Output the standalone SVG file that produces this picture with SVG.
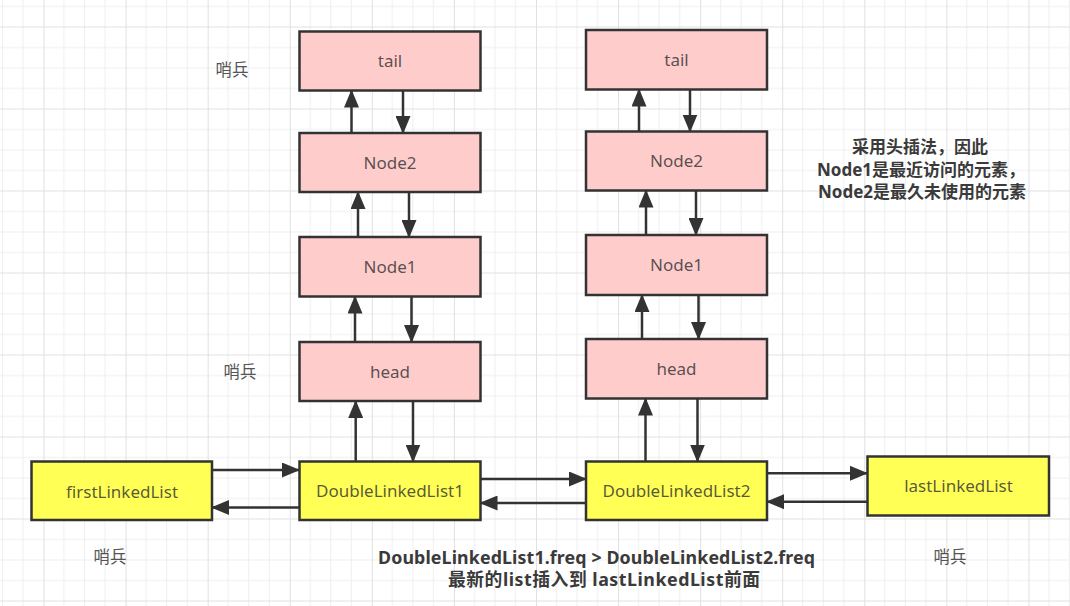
<svg xmlns="http://www.w3.org/2000/svg" width="1070" height="606" viewBox="0 0 1070 606">
  <defs>
    <pattern id="grid" patternUnits="userSpaceOnUse" x="43.5" y="26.5" width="82.08" height="82">
      <path d="M20.52 0V82M41.04 0V82M61.56 0V82M0 21H82.08M0 41.5H82.08M0 62H82.08" stroke="#eeeeee" stroke-width="1" fill="none"/>
      <path d="M0.5 0V82M0 0.5H82.08" stroke="#e0e0e0" stroke-width="1" fill="none"/>
    </pattern>
    <marker id="arrow" markerUnits="userSpaceOnUse" viewBox="0 0 18 15" refX="17" refY="7.5" markerWidth="18" markerHeight="15" orient="auto">
      <path d="M0 0L18 7.5L0 15z" fill="#333333"/>
    </marker>
  </defs>
  <style>
    .pink { fill: #ffcccc; stroke: #333333; stroke-width: 2.5; }
    .yellow { fill: #ffff55; stroke: #333333; stroke-width: 2.5; }
    .lbl { font-family: "Noto Sans", "Liberation Sans", sans-serif; font-size: 17px; fill: #333333; fill-opacity: 0.82; text-anchor: middle; }
    .note { font-family: "Noto Sans", "Noto Sans CJK SC", sans-serif; font-size: 16.5px; fill: #555555; text-anchor: middle; }
    .bold { font-family: "Noto Sans", "Noto Sans CJK SC", sans-serif; font-size: 17px; font-weight: bold; fill: #3a3a3a; text-anchor: middle; }
    .big { font-size: 17.8px; }
    .conn { stroke: #333333; stroke-width: 2.5; fill: none; marker-end: url(#arrow); }
  </style>
  <rect x="0" y="0" width="1070" height="606" fill="#ffffff"/>
  <rect x="0" y="0" width="1070" height="606" fill="url(#grid)"/>

  <g id="connectors">
    <path class="conn" d="M351.5 133V90.5"/>
    <path class="conn" d="M403 90.5V133"/>
    <path class="conn" d="M358 237V192"/>
    <path class="conn" d="M409 192V237"/>
    <path class="conn" d="M355 342V296.5"/>
    <path class="conn" d="M411.5 296.5V342"/>
    <path class="conn" d="M355.7 461.5V401"/>
    <path class="conn" d="M413 401V461.5"/>

    <path class="conn" d="M639 131.5V89.5"/>
    <path class="conn" d="M690 89.5V131.5"/>
    <path class="conn" d="M646 235V190.5"/>
    <path class="conn" d="M696 190.5V235"/>
    <path class="conn" d="M642 339V295"/>
    <path class="conn" d="M698.5 295V339"/>
    <path class="conn" d="M645.5 461.5V398.5"/>
    <path class="conn" d="M697.5 398.5V461.5"/>

    <path class="conn" d="M212 470H299"/>
    <path class="conn" d="M299 507.5H212"/>
    <path class="conn" d="M480.5 479H586"/>
    <path class="conn" d="M586 503H480.5"/>
    <path class="conn" d="M767 473.3H867"/>
    <path class="conn" d="M867.5 501.7H767"/>
  </g>

  <g id="left-tail"><rect class="pink" x="299.5" y="31.5" width="181" height="59"/><text class="lbl" x="390" y="67">tail</text></g>
  <g id="left-node2"><rect class="pink" x="299.5" y="133" width="181" height="59"/><text class="lbl" x="390" y="168.5">Node2</text></g>
  <g id="left-node1"><rect class="pink" x="299.5" y="237" width="181" height="59.5"/><text class="lbl" x="390" y="272.5">Node1</text></g>
  <g id="left-head"><rect class="pink" x="299.5" y="342" width="181" height="59"/><text class="lbl" x="390" y="377.5">head</text></g>
  <g id="double-linked-list-1"><rect class="yellow" x="299.5" y="461.5" width="181" height="58.5"/><text class="lbl" x="390" y="497">DoubleLinkedList1</text></g>

  <g id="right-tail"><rect class="pink" x="586" y="30" width="181" height="59.5"/><text class="lbl" x="676.5" y="66">tail</text></g>
  <g id="right-node2"><rect class="pink" x="586" y="131.5" width="181" height="59"/><text class="lbl" x="676.5" y="167">Node2</text></g>
  <g id="right-node1"><rect class="pink" x="586" y="235" width="181" height="60"/><text class="lbl" x="676.5" y="271">Node1</text></g>
  <g id="right-head"><rect class="pink" x="586" y="339" width="181" height="59.5"/><text class="lbl" x="676.5" y="375">head</text></g>
  <g id="double-linked-list-2"><rect class="yellow" x="586" y="461.5" width="181" height="58.5"/><text class="lbl" x="676.5" y="497">DoubleLinkedList2</text></g>

  <g id="first-linked-list"><rect class="yellow" x="31.5" y="461.5" width="180.5" height="58.5"/><text class="lbl" x="122" y="497.5">firstLinkedList</text></g>
  <g id="last-linked-list"><rect class="yellow" x="867.5" y="456.5" width="181.5" height="59"/><text class="lbl" x="958.5" y="492">lastLinkedList</text></g>

  <g id="annotations">
    <text class="note" x="232" y="76">哨兵</text>
    <text class="note" x="240" y="377.5">哨兵</text>
    <text class="note" x="110" y="563">哨兵</text>
    <text class="note" x="950" y="563">哨兵</text>
    <text class="bold" x="920" y="153">采用头插法，因此</text>
    <text class="bold" x="921" y="176">Node1是最近访问的元素，</text>
    <text class="bold" x="922" y="198">Node2是最久未使用的元素</text>
    <text class="bold big" x="596.5" y="564" textLength="437">DoubleLinkedList1.freq &gt; DoubleLinkedList2.freq</text>
    <text class="bold big" x="604" y="586" textLength="312">最新的list插入到 lastLinkedList前面</text>
  </g>
</svg>
